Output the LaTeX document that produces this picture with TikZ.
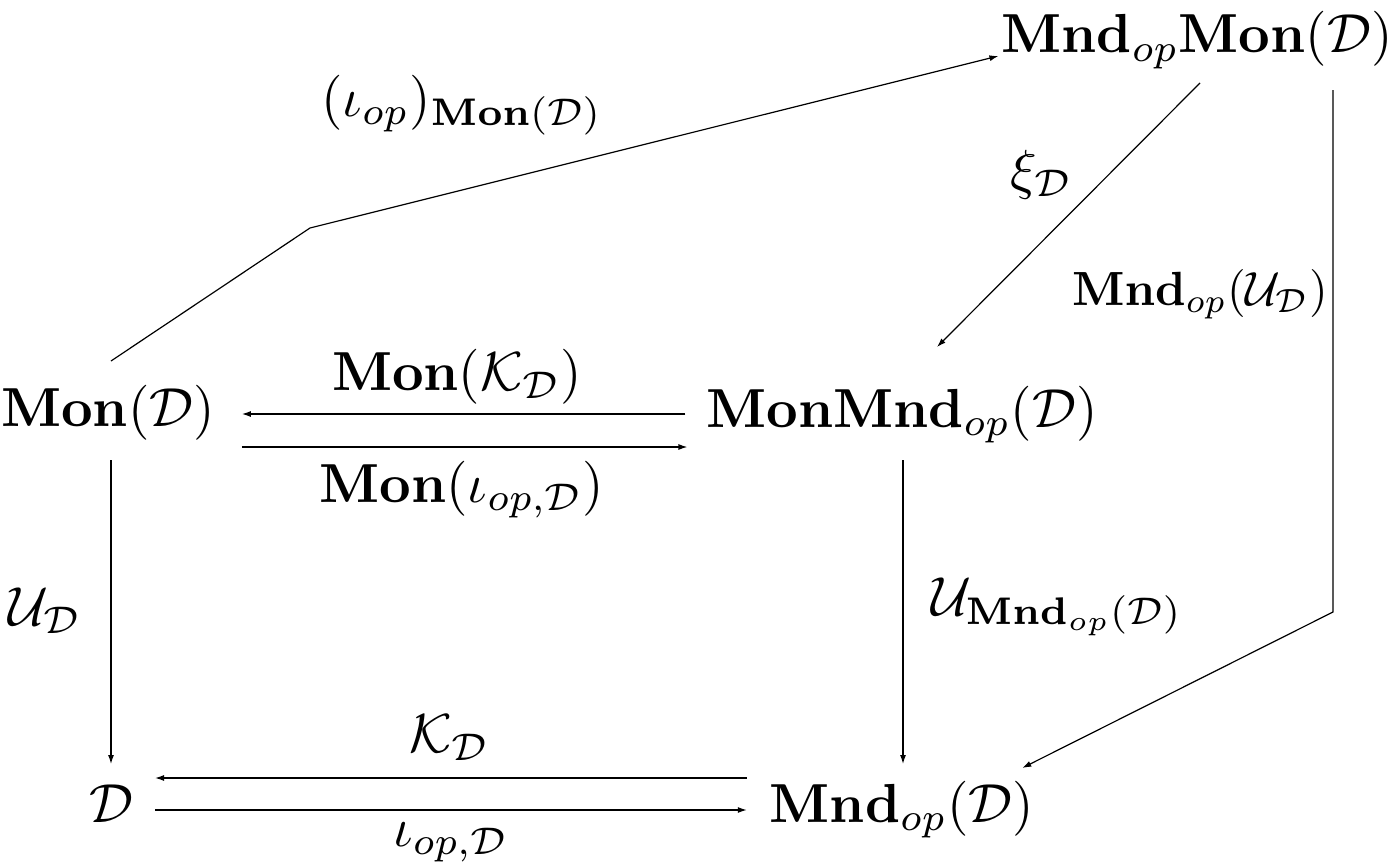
\documentclass[tikz,border=0pt]{standalone}
\usetikzlibrary{arrows.meta,calc}
\tikzset{
  obj/.style={inner sep=0pt, anchor=base, scale=2.75},
  lab/.style={inner sep=0pt, anchor=base, scale=2.75},
  smalllab/.style={inner sep=0pt, anchor=base, scale=2.4},
  arr/.style={line width=0.6pt, -{Latex[length=4.5pt,width=3pt]}},
  ln/.style={line width=0.6pt}
}
\begin{document}
\begin{tikzpicture}[x=0.5pt,y=-0.5pt]
\useasboundingbox (0,0) rectangle (1394,867);
% objects
\node[obj] (mmon) at (1197,53) {$\mathbf{Mnd}_{op}\mathbf{Mon}(\mathcal{D})$};
\node[obj] (mon) at (108,426) {$\mathbf{Mon}(\mathcal{D})$};
\node[obj] (monmnd) at (902,427) {$\mathbf{MonMnd}_{op}(\mathcal{D})$};
\node[obj] (d) at (111,822) {$\mathcal{D}$};
\node[obj] (mnd) at (902,822) {$\mathbf{Mnd}_{op}(\mathcal{D})$};
% bend coordinates
\coordinate (lc) at (310,228);
\coordinate (rc) at (1333,612);
% labels
\node[lab] (liota) at (462,116) {$(\iota_{op})_{\mathbf{Mon}(\mathcal{D})}$};
\node[lab] (lxi) at (1042,188) {$\xi_{\mathcal{D}}$};
\node[smalllab] (lmndu) at (1200,305) {$\mathbf{Mnd}_{op}(\mathcal{U}_{\mathcal{D}})$};
\node[lab] (lmonk) at (457,390) {$\mathbf{Mon}(\mathcal{K}_{\mathcal{D}})$};
\node[lab] (lmoni) at (462,502) {$\mathbf{Mon}(\iota_{op,\mathcal{D}})$};
\node[lab] (lu) at (45,625) {$\mathcal{U}_{\mathcal{D}}$};
\node[lab] (lumnd) at (1057,615) {$\mathcal{U}_{\mathbf{Mnd}_{op}(\mathcal{D})}$};
\node[lab] (lk) at (450,752) {$\mathcal{K}_{\mathcal{D}}$};
\node[lab] (li) at (451,846) {$\iota_{op,\mathcal{D}}$};
% connectors
\draw[arr] ($(monmnd.base west)+(-20,-13)$) -- ($(mon.base east)+(26,-12)$);
\draw[arr] ($(mon.base east)+(26,21)$) -- ($(monmnd.base west)+(-18,20)$);
\draw[arr] ($(mnd.base west)+(-22,-44)$) -- ($(d.base east)+(21,-44)$);
\draw[arr] ($(d.base east)+(21,-12)$) -- ($(mnd.base west)+(-22,-12)$);
\draw[arr] ($(mon.base)+(3,34)$) -- ($(d.base)+(0,-58)$);
\draw[arr] ($(monmnd.base)+(1,33)$) -- ($(mnd.base)+(1,-58)$);
\draw[arr] ($(mmon.base)+(3,30)$) -- ($(monmnd.base)+(35,-80)$);
\draw[arr] ($(rc |- mmon.base)+(0,37)$) -- (rc) -- ($(mnd.base east)+(-13,-54)$);
\draw[arr] ($(mon.base)+(3,-65)$) -- (lc) -- ($(mmon.base west)+(-2,3)$);
\end{tikzpicture}
\end{document}
